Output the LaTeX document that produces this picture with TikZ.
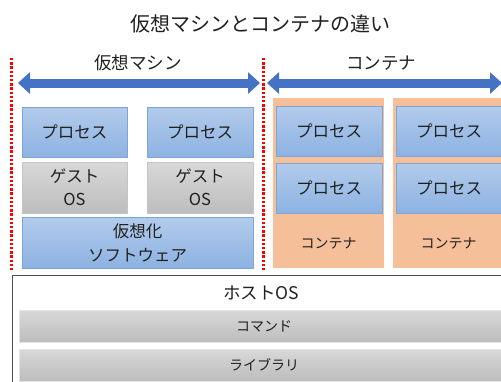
\documentclass[tikz,border=0pt]{standalone}
\usepackage{fontspec}
\setmainfont{Noto Sans CJK JP}
\usetikzlibrary{arrows.meta,positioning,calc}
\definecolor{procTop}{HTML}{B2CBEB}
\definecolor{procBot}{HTML}{8DB2E2}
\definecolor{procEdge}{HTML}{7FA5D6}
\definecolor{grayTop}{HTML}{D8D8D8}
\definecolor{grayBot}{HTML}{BDBDBD}
\definecolor{grayEdge}{HTML}{C4C4C4}
\definecolor{ctrFill}{HTML}{F5BF9A}
\definecolor{spanBlue}{HTML}{4472C4}
\definecolor{txt}{HTML}{202020}

\begin{document}
\begin{tikzpicture}
  [x=1pt,y=-1pt,
  every node/.style={text=txt,inner sep=0pt},
  proc/.style={draw=procEdge,top color=procTop,bottom color=procBot,
    minimum width=106pt,minimum height=50pt,font=\fontsize{16.5}{19}\selectfont},
  guest/.style={draw=grayEdge,top color=grayTop,bottom color=grayBot,
    minimum width=105pt,minimum height=51pt,align=center,font=\fontsize{16.5}{23}\selectfont},
  bar/.style={draw=white!90!black,top color=grayTop,bottom color=grayBot,
    minimum width=490pt,minimum height=32pt,font=\fontsize{14}{16}\selectfont},
  ctr/.style={fill=ctrFill,minimum width=111pt,minimum height=170pt},
  span/.style={spanBlue,line width=9pt,
    {Triangle[width=21pt,length=12pt]}-{Triangle[width=21pt,length=12pt]}},
  border/.style={red,line width=3pt,dash pattern=on 2.4pt off 1.8pt},
  head/.style={font=\fontsize{17.5}{20}\selectfont}
  ]
  \useasboundingbox (0,0) rectangle (501,381);

  \node[font=\fontsize{20}{24}\selectfont] (title) at (260,24) {仮想マシンとコンテナの違い};

  % separators and spans
  \coordinate (sepAtop) at (11,58);
  \coordinate (sepAbot) at (11,272);
  \coordinate (sepBtop) at (263,58);
  \coordinate (sepBbot) at (263,272);
  \draw[border] (sepAtop) -- (sepAbot);
  \draw[border] (sepBtop) -- (sepBbot);

  \coordinate (vmL) at (18,83);
  \coordinate (vmR) at (260,83);
  \coordinate (ctL) at (267,83);
  \coordinate (ctR) at (502,83);
  \draw[span] (vmL) -- (vmR);
  \draw[span] (ctL) -- (ctR);
  \node[head] (vmhead) at (138,63) {仮想マシン};
  \node[head] (cthead) at (381,63) {コンテナ};

  % host OS
  \node[draw=black!70,line width=1.3pt,minimum width=500pt,minimum height=120pt,anchor=north west]
    (host) at (12,275) {};
  \node[font=\fontsize{17.5}{20}\selectfont] (hostlabel) at (261,293) {ホストOS};
  \node[bar] (cmd) at (264,326) {コマンド};
  \node[bar] (lib) at (264,365) {ライブラリ};

  % virtual machines
  \node[proc,minimum width=105pt] (vmproc1) at (74.5,132) {プロセス};
  \node[proc] (vmproc2) at (200,132) {プロセス};
  \node[guest] (guest1) at (74.5,187.5) {ゲスト\\OS};
  \node[guest,minimum width=106pt] (guest2) at (200,187.5) {ゲスト\\OS};
  \node[proc,minimum width=231pt,minimum height=51pt,align=center,
    font=\fontsize{16.5}{24}\selectfont] (hyper) at (137.5,242.5) {仮想化\\ソフトウェア};

  % containers
  \foreach \name/\cx in {ctrA/328.5,ctrB/448.5} {
    \node[ctr] (\name) at (\cx,183) {};
    \node[proc] (\name proc1) at (\cx+0.5,131) {プロセス};
    \node[proc] (\name proc2) at (\cx+0.5,188) {プロセス};
    \node[font=\fontsize{14}{16}\selectfont] (\name label) at (\cx,243) {コンテナ};
  }
\end{tikzpicture}
\end{document}
